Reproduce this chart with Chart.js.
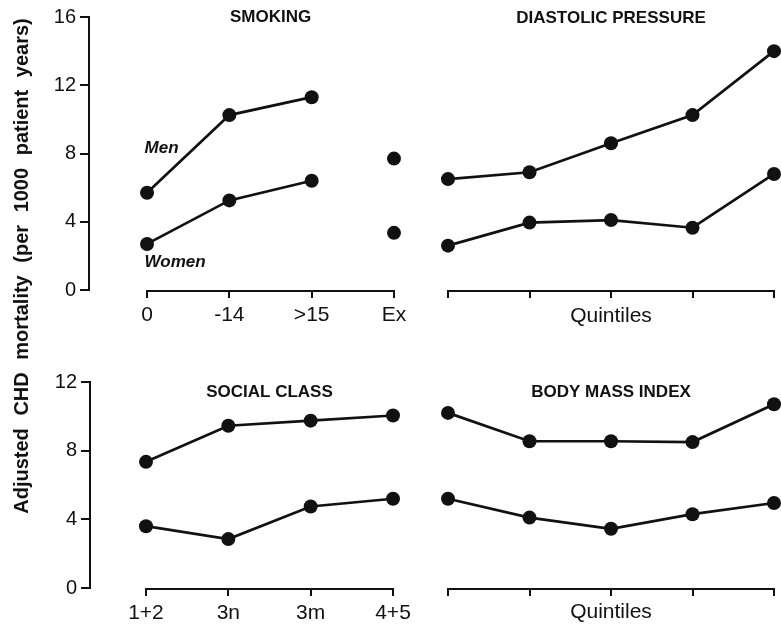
<!DOCTYPE html>
<html>
<head>
<meta charset="utf-8">
<script src="https://cdn.jsdelivr.net/npm/chart.js@4"></script>
<style>
  html, body { margin: 0; padding: 0; background: #fff; }
  #wrap { position: relative; width: 781px; height: 631px; overflow: hidden; background: #fff; }
  canvas { position: absolute; }
  #ytitle {
    position: absolute; left: -248px; top: 254px; width: 540px; height: 24px;
    line-height: 24px; text-align: center; transform: rotate(-90deg);
    font: bold 20px "Liberation Sans", Arial, sans-serif; word-spacing: 7px; color: #111;
    white-space: nowrap;
  }
</style>
</head>
<body>
<div id="wrap">
  <canvas id="c1" width="420" height="335" style="left:0;top:0;width:420px;height:335px"></canvas>
  <canvas id="c2" width="361" height="335" style="left:420px;top:0;width:361px;height:335px"></canvas>
  <canvas id="c3" width="420" height="291" style="left:0;top:340px;width:420px;height:291px"></canvas>
  <canvas id="c4" width="361" height="291" style="left:420px;top:340px;width:361px;height:291px"></canvas>
  <div id="ytitle">Adjusted CHD mortality (per 1000 patient years)</div>
</div>
<script>
// Adjusted CHD mortality per 1000 patient years, men and women
const smokingLabels = ['0', '-14', '>15', 'Ex'];
const smokingMen = [5.7, 10.25, 11.3, 7.7];
const smokingWomen = [2.7, 5.25, 6.4, 3.35];

const diastolicMen = [6.5, 6.9, 8.6, 10.25, 14.0];
const diastolicWomen = [2.6, 3.95, 4.1, 3.65, 6.8];

const socialLabels = ['1+2', '3n', '3m', '4+5'];
const socialMen = [7.35, 9.45, 9.75, 10.05];
const socialWomen = [3.6, 2.85, 4.75, 5.2];

const bmiMen = [10.2, 8.55, 8.55, 8.5, 10.7];
const bmiWomen = [5.2, 4.1, 3.45, 4.3, 4.95];

const topTicks = [0, 4, 8, 12, 16];
const bottomTicks = [0, 4, 8, 12];

const INK = '#111';
const FAMILY = '"Liberation Sans", Arial, sans-serif';
Chart.defaults.font.family = FAMILY;
Chart.defaults.color = INK;
Chart.defaults.animation = false;

// Panel heading, x axis line between first and last tick, and optional series labels
const panelPlugin = {
  id: 'panel',
  afterDraw(chart, args, opts) {
    const {ctx, chartArea} = chart;
    const xs = chart.scales.x, ys = chart.scales.y;
    const t = xs.ticks;
    const x0 = xs.getPixelForValue(t[0].value);
    const x1 = xs.getPixelForValue(t[t.length - 1].value);
    ctx.save();
    ctx.strokeStyle = INK;
    ctx.lineWidth = 2;
    ctx.beginPath();
    ctx.moveTo(x0 - 1, Math.round(chartArea.bottom) + 1);
    ctx.lineTo(x1 + 1, Math.round(chartArea.bottom) + 1);
    ctx.stroke();
    ctx.fillStyle = INK;
    ctx.font = 'bold 17px ' + FAMILY;
    ctx.textAlign = 'center';
    ctx.textBaseline = 'middle';
    ctx.fillText(opts.text, (x0 + x1) / 2, chartArea.top + opts.dy);
    if (opts.series) {
      ctx.font = 'italic bold 17px ' + FAMILY;
      ctx.textAlign = 'left';
      opts.series.forEach(s => {
        ctx.fillText(s.text, xs.getPixelForValue(s.x), ys.getPixelForValue(s.y));
      });
    }
    ctx.restore();
  }
};

function series(values, skipLast) {
  return {
    data: values.map((v, i) => ({x: i, y: v})),
    borderColor: INK,
    borderWidth: 2.7,
    pointRadius: 7,
    pointBackgroundColor: INK,
    pointBorderWidth: 0,
    tension: 0,
    clip: false,
    segment: skipLast ? {
      borderColor: c => (c.p1DataIndex === values.length - 1 ? 'rgba(0,0,0,0)' : INK)
    } : undefined
  };
}

function makePanel(id, cfg) {
  const showY = !!cfg.yTicks;
  new Chart(document.getElementById(id), {
    type: 'line',
    data: { datasets: cfg.datasets },
    options: {
      responsive: false,
      events: [],
      layout: { padding: cfg.padding },
      plugins: {
        legend: { display: false },
        tooltip: { enabled: false },
        panel: { text: cfg.title, dy: cfg.titleDy, series: cfg.series }
      },
      scales: {
        x: {
          type: 'linear',
          min: cfg.xMin,
          max: cfg.xMax,
          afterFit: s => { s.height = cfg.xHeight; },
          border: { display: false },
          grid: { drawOnChartArea: false, drawTicks: true, tickLength: 8, color: INK, lineWidth: 2 },
          ticks: {
            stepSize: 1,
            includeBounds: false,
            display: !!cfg.xLabels,
            padding: 5,
            color: INK,
            font: { size: 21 },
            maxRotation: 0,
            autoSkip: false,
            callback: v => (cfg.xLabels ? cfg.xLabels[v] : '')
          },
          title: cfg.xLabels ? { display: false } : {
            display: true, text: 'Quintiles', color: INK,
            font: { size: 21 }, padding: { top: 0, bottom: 6 }
          }
        },
        y: {
          display: showY,
          min: 0,
          max: cfg.yMax,
          afterFit: s => { s.width = cfg.yWidth || 0; },
          afterBuildTicks: s => { if (cfg.yTicks) s.ticks = cfg.yTicks.map(v => ({value: v})); },
          border: { display: true, color: INK, width: 2 },
          grid: { drawOnChartArea: false, drawTicks: true, tickLength: 9, color: INK, lineWidth: 2 },
          ticks: { padding: 4, color: INK, font: { size: 20 } }
        }
      }
    },
    plugins: [panelPlugin]
  });
}

makePanel('c1', {
  title: 'SMOKING', titleDy: 0,
  datasets: [series(smokingMen, true), series(smokingWomen, true)],
  xLabels: smokingLabels, xMin: -0.705, xMax: 3, xHeight: 45,
  yTicks: topTicks, yMax: 16, yWidth: 89,
  padding: { top: 17, right: 26, bottom: 0, left: 0 },
  series: [ { text: 'Men', x: -0.03, y: 8.3 }, { text: 'Women', x: -0.03, y: 1.6 } ]
});

makePanel('c2', {
  title: 'DIASTOLIC PRESSURE', titleDy: 1,
  datasets: [series(diastolicMen), series(diastolicWomen)],
  xLabels: null, xMin: 0, xMax: 4, xHeight: 45,
  yTicks: null, yMax: 16,
  padding: { top: 17, right: 3, bottom: 0, left: 28 }
});

makePanel('c3', {
  title: 'SOCIAL CLASS', titleDy: 10,
  datasets: [series(socialMen), series(socialWomen)],
  xLabels: socialLabels, xMin: -0.68, xMax: 3, xHeight: 43,
  yTicks: bottomTicks, yMax: 12, yWidth: 90,
  padding: { top: 42, right: 27, bottom: 0, left: 0 }
});

makePanel('c4', {
  title: 'BODY MASS INDEX', titleDy: 10,
  datasets: [series(bmiMen), series(bmiWomen)],
  xLabels: null, xMin: 0, xMax: 4, xHeight: 43,
  yTicks: null, yMax: 12,
  padding: { top: 42, right: 3, bottom: 0, left: 28 }
});
</script>
</body>
</html>
